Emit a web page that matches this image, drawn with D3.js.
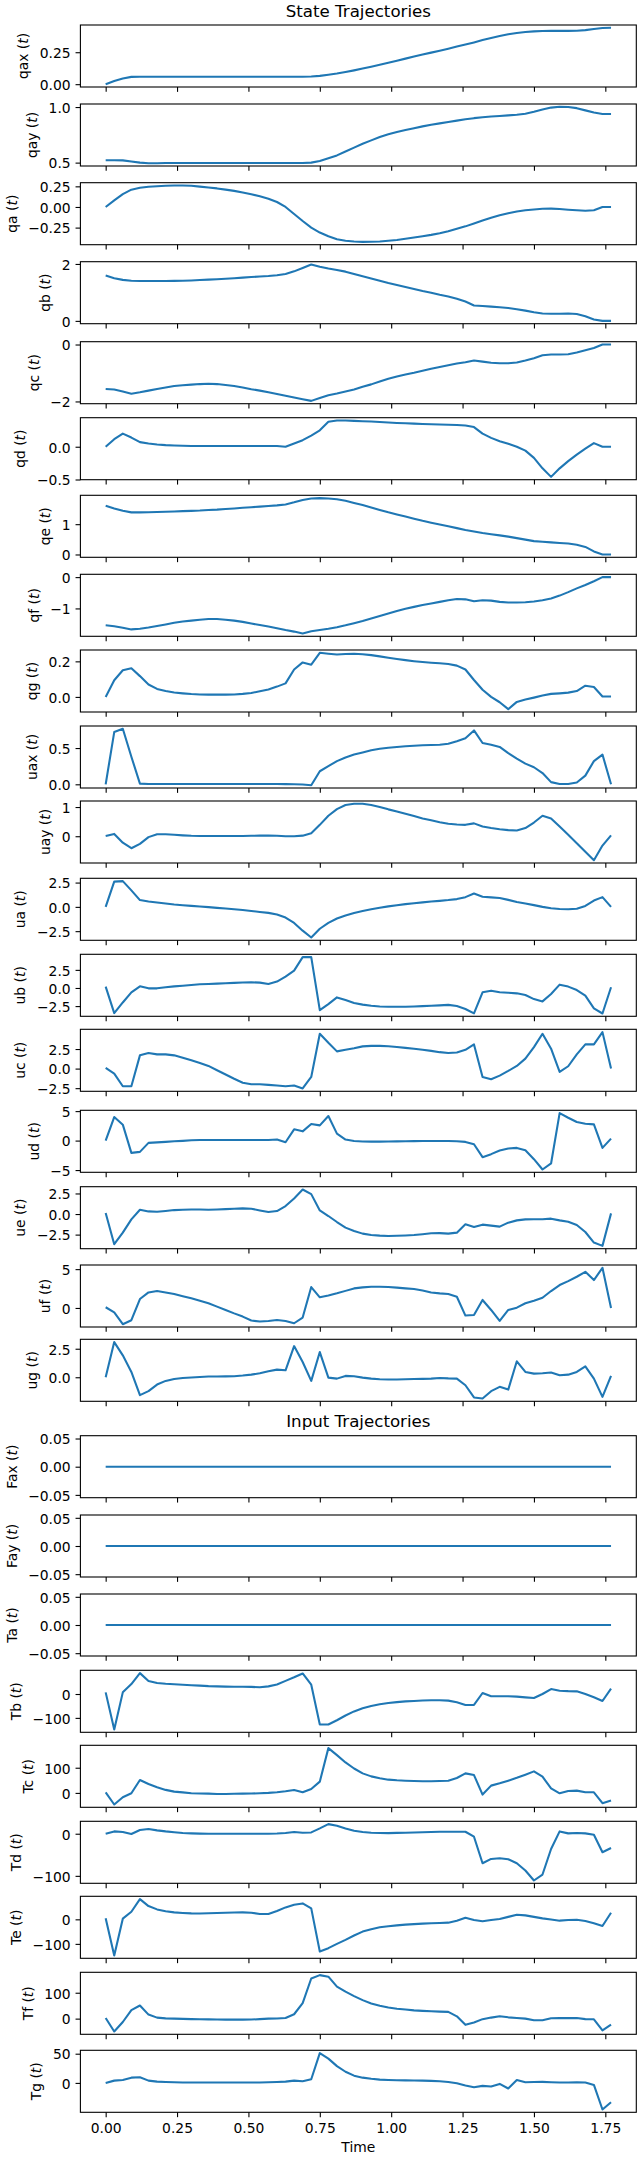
<!DOCTYPE html>
<html>
<head>
<meta charset="utf-8">
<style>
  body { margin: 0; background: #fff; }
  svg text { font-family: "DejaVu Sans", sans-serif; fill: #000; }
  .tick text { font-size: 13.89px; }
  .tick line { stroke: #000; stroke-width: 1.1; }
  .ylab, .xlab { font-size: 13.89px; }
  .title { font-size: 16.67px; }
</style>
</head>
<body>
<svg id="chart"></svg>
<script src="https://d3js.org/d3.v7.min.js"></script>
<script>
// sample times
const time = [0,0.03,0.06,0.09,0.12,0.15,0.18,0.21,0.24,0.27,0.3,0.33,0.36,0.39,0.42,0.45,0.48,0.51,0.54,0.57,
  0.6,0.63,0.66,0.69,0.72,0.75,0.78,0.81,0.84,0.87,0.9,0.93,0.96,0.99,1.02,1.05,1.08,1.11,1.14,1.17,
  1.2,1.23,1.26,1.29,1.32,1.35,1.38,1.41,1.44,1.47,1.5,1.53,1.56,1.59,1.62,1.65,1.68,1.71,1.74,1.77];
const xTicks = [0, 0.25, 0.5, 0.75, 1, 1.25, 1.5, 1.75];

// states
const qax = [0,0.025,0.045,0.057,0.058,0.058,0.058,0.058,0.058,0.058,0.058,0.058,0.058,0.058,0.058,0.058,0.058,0.058,0.058,0.058,
  0.058,0.058,0.058,0.058,0.06,0.065,0.074,0.083,0.095,0.108,0.122,0.137,0.152,0.168,0.184,0.2,0.216,0.232,0.247,0.262,
  0.278,0.294,0.31,0.327,0.345,0.362,0.377,0.39,0.4,0.408,0.413,0.416,0.417,0.417,0.417,0.418,0.423,0.432,0.44,0.441];
const qay = [0.522,0.522,0.52,0.51,0.5,0.495,0.495,0.497,0.497,0.497,0.497,0.497,0.497,0.497,0.497,0.497,0.497,0.497,0.497,0.497,
  0.497,0.497,0.497,0.497,0.5,0.515,0.54,0.565,0.6,0.635,0.67,0.7,0.73,0.755,0.775,0.793,0.81,0.826,0.84,0.853,
  0.865,0.878,0.89,0.9,0.908,0.915,0.92,0.925,0.93,0.94,0.958,0.978,0.995,1.002,1.0,0.99,0.97,0.95,0.937,0.937];
const qa = [0,0.08,0.155,0.21,0.232,0.245,0.252,0.258,0.26,0.26,0.258,0.247,0.237,0.225,0.21,0.195,0.175,0.155,0.13,0.1,
  0.06,0.0,-0.085,-0.17,-0.25,-0.31,-0.355,-0.39,-0.41,-0.418,-0.423,-0.422,-0.418,-0.41,-0.4,-0.386,-0.37,-0.355,-0.338,-0.318,
  -0.295,-0.265,-0.235,-0.2,-0.165,-0.13,-0.1,-0.075,-0.055,-0.04,-0.03,-0.022,-0.02,-0.025,-0.033,-0.04,-0.045,-0.04,0,0];
const qb = [1.59,1.5,1.44,1.41,1.4,1.4,1.4,1.4,1.405,1.41,1.42,1.435,1.45,1.465,1.48,1.5,1.52,1.54,1.56,1.575,
  1.6,1.65,1.74,1.86,1.98,1.9,1.84,1.79,1.73,1.65,1.57,1.49,1.41,1.33,1.26,1.19,1.12,1.05,0.99,0.92,
  0.86,0.78,0.68,0.54,0.52,0.5,0.48,0.45,0.41,0.36,0.3,0.26,0.25,0.25,0.26,0.24,0.16,0.05,0,0];
const qc = [-1.56,-1.58,-1.65,-1.73,-1.68,-1.62,-1.56,-1.51,-1.46,-1.43,-1.41,-1.39,-1.38,-1.39,-1.42,-1.46,-1.51,-1.57,-1.62,-1.68,
  -1.74,-1.8,-1.86,-1.92,-1.98,-1.88,-1.78,-1.72,-1.65,-1.58,-1.48,-1.4,-1.3,-1.2,-1.12,-1.05,-0.99,-0.92,-0.85,-0.79,
  -0.73,-0.67,-0.62,-0.56,-0.6,-0.64,-0.66,-0.66,-0.63,-0.56,-0.48,-0.38,-0.35,-0.35,-0.34,-0.28,-0.2,-0.12,0,0];
const qd = [0,0.115,0.2,0.14,0.07,0.05,0.035,0.025,0.02,0.015,0.012,0.01,0.01,0.01,0.01,0.01,0.01,0.01,0.01,0.01,
  0.012,0.0,0.05,0.1,0.17,0.25,0.38,0.4,0.4,0.395,0.39,0.385,0.378,0.37,0.363,0.357,0.352,0.348,0.344,0.34,
  0.336,0.332,0.325,0.3,0.2,0.135,0.085,0.045,0.0,-0.06,-0.17,-0.33,-0.46,-0.33,-0.22,-0.12,-0.03,0.055,0,0];
const qe = [1.61,1.52,1.44,1.39,1.39,1.395,1.4,1.41,1.42,1.43,1.44,1.45,1.47,1.48,1.5,1.52,1.54,1.56,1.58,1.6,
  1.62,1.65,1.72,1.8,1.85,1.86,1.85,1.82,1.77,1.7,1.63,1.55,1.47,1.39,1.32,1.25,1.18,1.11,1.05,0.99,
  0.93,0.87,0.81,0.76,0.71,0.67,0.63,0.59,0.54,0.49,0.44,0.42,0.4,0.38,0.36,0.32,0.25,0.1,0,0];
const qf = [-1.54,-1.57,-1.62,-1.67,-1.65,-1.61,-1.56,-1.51,-1.46,-1.42,-1.39,-1.36,-1.34,-1.34,-1.36,-1.39,-1.43,-1.48,-1.53,-1.58,
  -1.63,-1.69,-1.74,-1.8,-1.73,-1.69,-1.65,-1.6,-1.54,-1.47,-1.4,-1.32,-1.24,-1.16,-1.08,-1.01,-0.95,-0.89,-0.84,-0.79,
  -0.74,-0.7,-0.71,-0.77,-0.74,-0.75,-0.79,-0.81,-0.81,-0.8,-0.78,-0.74,-0.68,-0.59,-0.48,-0.36,-0.25,-0.13,0,0];
const qg = [0,0.094,0.15,0.161,0.117,0.07,0.045,0.033,0.025,0.02,0.016,0.014,0.013,0.013,0.013,0.014,0.017,0.022,0.032,0.042,
  0.058,0.076,0.154,0.194,0.181,0.248,0.243,0.239,0.241,0.243,0.24,0.235,0.228,0.22,0.213,0.207,0.201,0.196,0.192,0.189,
  0.185,0.176,0.154,0.095,0.04,0.0,-0.03,-0.069,-0.028,-0.015,-0.004,0.008,0.017,0.02,0.024,0.033,0.063,0.056,0.002,0.002];
const uax = [0,0.72,0.765,0.38,0.01,0.005,0.005,0.005,0.005,0.005,0.005,0.005,0.005,0.005,0.005,0.005,0.005,0.005,0.005,0.005,
  0.005,0.003,0.0,-0.003,-0.012,0.18,0.25,0.32,0.37,0.41,0.44,0.47,0.49,0.505,0.515,0.525,0.532,0.538,0.542,0.546,
  0.56,0.595,0.635,0.743,0.57,0.545,0.515,0.43,0.355,0.285,0.235,0.155,0.03,0.005,0.005,0.025,0.12,0.32,0.41,0];
const uay = [0.01,0.08,-0.22,-0.41,-0.26,-0.03,0.07,0.07,0.05,0.03,0.015,0.01,0.01,0.01,0.01,0.01,0.01,0.015,0.02,0.02,
  0.015,0.0,0.0,0.02,0.1,0.39,0.7,0.93,1.07,1.11,1.11,1.07,1.0,0.92,0.85,0.77,0.69,0.61,0.55,0.48,
  0.425,0.4,0.39,0.44,0.33,0.28,0.24,0.21,0.195,0.28,0.47,0.7,0.61,0.33,0.05,-0.24,-0.53,-0.82,-0.32,0.03];
const ua = [0,2.6,2.65,1.7,0.7,0.55,0.45,0.35,0.25,0.17,0.1,0.03,-0.03,-0.1,-0.17,-0.25,-0.33,-0.42,-0.52,-0.62,
  -0.78,-1.1,-1.65,-2.45,-3.15,-2.25,-1.65,-1.2,-0.88,-0.62,-0.42,-0.25,-0.1,0.05,0.17,0.28,0.38,0.46,0.55,0.62,
  0.7,0.8,1.0,1.38,1.05,0.98,0.92,0.72,0.5,0.35,0.18,0.0,-0.15,-0.22,-0.24,-0.2,0.1,0.65,1.0,0];
const ub = [0.19,-3.47,-2.0,-0.6,0.23,-0.05,-0.05,0.1,0.22,0.32,0.42,0.51,0.56,0.6,0.65,0.7,0.75,0.79,0.74,0.56,
  0.88,1.57,2.4,4.26,4.26,-3.06,-2.22,-1.3,-1.67,-2.08,-2.3,-2.45,-2.55,-2.6,-2.6,-2.58,-2.55,-2.5,-2.45,-2.4,
  -2.33,-2.5,-2.9,-3.5,-0.6,-0.37,-0.6,-0.65,-0.74,-0.97,-1.53,-1.85,-0.83,0.46,0.19,-0.28,-1.06,-2.82,-3.52,0.1];
const uc = [0.08,-0.64,-2.25,-2.25,1.69,1.99,1.82,1.82,1.69,1.4,1.06,0.72,0.34,-0.21,-0.76,-1.3,-1.8,-2.0,-2.0,-2.08,
  -2.16,-2.25,-2.16,-2.54,-1.07,4.45,3.3,2.2,2.4,2.6,2.84,2.9,2.9,2.85,2.75,2.65,2.54,2.4,2.26,2.1,
  2.0,2.05,2.4,3.09,-1.07,-1.36,-0.9,-0.3,0.34,1.27,2.75,4.45,2.54,-0.43,0.3,1.82,3.09,3.09,4.66,0];
const ud = [0,3.99,2.7,-2.08,-1.91,-0.39,-0.3,-0.22,-0.12,-0.05,0.05,0.1,0.11,0.11,0.11,0.11,0.11,0.11,0.11,0.11,
  0.2,-0.28,1.91,1.57,2.81,2.58,4.16,1.18,0.17,-0.06,-0.15,-0.17,-0.17,-0.15,-0.13,-0.11,-0.09,-0.07,-0.06,-0.06,
  -0.07,-0.12,-0.22,-0.62,-2.81,-2.3,-1.69,-1.35,-1.24,-1.63,-3.15,-4.9,-3.88,4.66,3.88,3.15,2.87,2.75,-1.24,0.34];
const ue = [0.12,-3.67,-2.26,-0.65,0.52,0.32,0.28,0.38,0.48,0.52,0.56,0.55,0.52,0.55,0.6,0.64,0.69,0.65,0.44,0.24,
  0.36,0.97,1.9,2.98,2.42,0.44,-0.24,-0.97,-1.65,-2.06,-2.38,-2.54,-2.62,-2.66,-2.64,-2.6,-2.54,-2.45,-2.34,-2.32,
  -2.38,-2.26,-1.25,-1.57,-1.29,-1.41,-1.53,-1.05,-0.77,-0.65,-0.63,-0.63,-0.56,-0.77,-0.93,-1.33,-2.18,-3.47,-3.87,0.08];
const uf = [0.09,-0.56,-2.09,-1.58,1.15,2.0,2.18,2.0,1.79,1.52,1.24,0.92,0.6,0.17,-0.26,-0.7,-1.11,-1.62,-1.75,-1.67,
  -1.54,-1.67,-1.97,-1.24,2.69,1.37,1.6,1.88,2.2,2.52,2.65,2.74,2.74,2.7,2.62,2.52,2.44,2.25,2.0,1.88,
  1.79,1.45,-0.98,-0.9,1.03,-0.26,-1.67,-0.26,0.04,0.6,0.94,1.32,2.18,2.95,3.46,4.02,4.66,3.59,5.17,0];
const ug = [0,3.08,1.92,0.47,-1.57,-1.22,-0.64,-0.32,-0.15,-0.06,-0.02,0.02,0.06,0.07,0.08,0.09,0.15,0.23,0.35,0.52,
  0.67,0.61,2.73,1.34,-0.32,2.21,-0.03,-0.12,0.12,0.09,-0.03,-0.12,-0.17,-0.2,-0.2,-0.18,-0.16,-0.14,-0.12,-0.06,
  -0.1,-0.12,-0.7,-1.77,-1.86,-1.22,-0.84,-1.08,1.4,0.47,0.32,0.35,0.41,0.17,0.23,0.47,0.96,-0.12,-1.72,0.12];

// inputs
const Fax = [0,0,0,0,0,0,0,0,0,0,0,0,0,0,0,0,0,0,0,0,0,0,0,0,0,0,0,0,0,0,
  0,0,0,0,0,0,0,0,0,0,0,0,0,0,0,0,0,0,0,0,0,0,0,0,0,0,0,0,0,0];
const Fay = [0,0,0,0,0,0,0,0,0,0,0,0,0,0,0,0,0,0,0,0,0,0,0,0,0,0,0,0,0,0,
  0,0,0,0,0,0,0,0,0,0,0,0,0,0,0,0,0,0,0,0,0,0,0,0,0,0,0,0,0,0];
const Ta = [0,0,0,0,0,0,0,0,0,0,0,0,0,0,0,0,0,0,0,0,0,0,0,0,0,0,0,0,0,0,
  0,0,0,0,0,0,0,0,0,0,0,0,0,0,0,0,0,0,0,0,0,0,0,0,0,0,0,0,0,0];
const Tb = [6.9,-148.6,6.9,41.7,87.5,54.2,45.8,43,41,39,37,35,33,32,31,30.6,30.6,30,28,32,
  40,55,70,86.1,38.9,-127.8,-127.8,-110,-90,-73,-60,-50,-43,-38,-34,-31,-29,-27.5,-26.4,-26,
  -27.8,-34.7,-45.8,-45.8,4.2,-9.7,-9.7,-9.7,-11,-14,-16.7,0,20.8,13.9,12,11.1,0,-13.9,-29.2,22.2];
const Tc = [2.4,-46,-17,-1.6,51.4,35.6,22.1,12,5.1,2,-1.6,-2.5,-3,-4.1,-4.1,-3.5,-3,-2.5,-1.6,0,
  2.4,6.3,11.6,2.4,15.8,44.7,177.9,150,121,97,77.5,65.6,58,52.6,50,48.6,47,46,46,47,
  48.6,59.3,77.5,70.9,-6.7,28.9,38,48.6,60,72.3,85.4,64.3,18.2,-1.6,7.6,9,2.4,2.4,-41,-30.4];
const Td = [0,5.5,3.9,-0.8,8.7,11,8,5.5,3.5,1.6,0.8,0.3,0,0,0,0,0,0,0,0,
  0.5,1.6,3.9,2.4,3.1,12.6,22.8,18.9,12.6,7.1,3.9,2.5,1.6,1.5,2,2.5,3.1,3.5,4,4.5,
  4.7,4.7,4.7,-7.1,-70,-59.8,-58.3,-60.6,-70,-87.4,-111,-96.9,-36.2,5.5,0.8,1.6,0.8,-2.4,-44,-33.9];
const Te = [4,-147.3,2.7,31,82.4,54,40.5,33,28.4,26,24.3,24,24.5,25.5,27,28,28.4,27,22,21.6,
  33.8,48.6,59.5,64.9,44.6,-131,-117.6,-100,-83.8,-66,-50,-40,-32.4,-28,-24.5,-21.6,-19.5,-17.5,-16.2,-15,
  -13.5,-5.4,6.8,-2.7,-8.1,-3,1.4,10,18.9,16.2,10,4,-1,-5.4,-3,-1.4,-6.8,-16.2,-27,27];
const Tf = [2.6,-49.6,-13,32.6,50.8,15.6,3.9,1,0,-1,-2,-2.5,-3,-3.5,-3.9,-3.9,-3.9,-3.5,-2,0,
  0.5,2.6,16.9,60,155,168,162,123.4,104,87,71.5,58.6,50,43,38,35,32,30,28.5,27,
  26,9,-24,-15,-2,4,9,5,2.6,0,-6,-6.5,1.3,2.6,2,2.6,-2,-2.6,-45.6,-23.4];
const Tg = [0,3.9,5.1,9,9.6,3.9,2.2,1.5,1.1,0.8,0.6,0.6,0.6,0.6,0.6,0.6,0.6,0.6,0.8,1.1,
  1.5,2.2,3.9,2.8,6.2,51,41.6,28.7,19.1,12.4,9,7,5.6,5,4.5,4.3,4,3.9,3.5,2.8,
  1.7,-0.6,-4.5,-7.3,-5.1,-6.2,-1.7,-9.6,5.1,1.1,1.5,1.7,1.2,0.6,0.8,1.1,0.8,-3.4,-45.5,-33.1];

const stateNames = ["qax","qay","qa","qb","qc","qd","qe","qf","qg","uax","uay","ua","ub","uc","ud","ue","uf","ug"];
const stateSeries = [qax,qay,qa,qb,qc,qd,qe,qf,qg,uax,uay,ua,ub,uc,ud,ue,uf,ug];
const stateTicks = [[0,0.25],[0.5,1],[-0.25,0,0.25],[0,2],[-2,0],[-0.5,0],[0,1],[-1,0],[0,0.2],
  [0,0.5],[0,1],[-2.5,0,2.5],[-2.5,0,2.5],[-2.5,0,2.5],[-5,0,5],[-2.5,0,2.5],[0,5],[0,2.5]];
const inputNames = ["Fax","Fay","Ta","Tb","Tc","Td","Te","Tf","Tg"];
const inputSeries = [Fax,Fay,Ta,Tb,Tc,Td,Te,Tf,Tg];
const inputTicks = [[-0.05,0,0.05],[-0.05,0,0.05],[-0.05,0,0.05],[-100,0],[0,100],[-100,0],[-100,0],[0,100],[0,50]];

// layout (px)
const width = 640, height = 2160;
const left = 80.4, right = 636.3, panelH = 62;
const tickLen = 4.86, tickPad = 4.86, labelPad = 5.56;
const stateTops = [25,104,182.7,261.7,341.7,417.7,495.3,574.3,650,726,801,878.3,954.3,1029.3,1110.3,1186.7,1265,1339.3];
const inputTops = [1435.7,1515,1594,1670.3,1745.3,1821.3,1896.3,1972.3,2050.3];

const svg = d3.select("#chart").attr("width", width).attr("height", height);

const tExt = d3.extent(time);
const tPad = (tExt[1] - tExt[0]) * 0.05;
const x = d3.scaleLinear().domain([tExt[0] - tPad, tExt[1] + tPad]).range([left, right]);

function decimals(ticks) {
  const step = Math.abs(ticks[1] - ticks[0]);
  let d = 0;
  while (Math.abs(step * 10 ** d - Math.round(step * 10 ** d)) > 1e-9 && d < 6) d++;
  return d;
}

function drawPanel(top, name, values, ticks, isLast) {
  const g = svg.append("g").attr("transform", "translate(0," + top + ")");

  let [lo, hi] = d3.extent(values);
  if (lo === hi) { lo -= 0.05; hi += 0.05; }
  const m = (hi - lo) * 0.05;
  const y = d3.scaleLinear().domain([lo - m, hi + m]).range([panelH, 0]);

  const line = d3.line().x((d, i) => x(time[i])).y(d => y(d));
  g.append("path")
    .datum(values)
    .attr("d", line)
    .attr("fill", "none")
    .attr("stroke", "#1f77b4")
    .attr("stroke-width", 2.08)
    .attr("stroke-linejoin", "round");

  // x axis (labels only on bottom panel)
  const xAxis = g.append("g")
    .attr("transform", "translate(0," + panelH + ")")
    .call(d3.axisBottom(x).tickValues(xTicks).tickSize(tickLen).tickPadding(tickPad)
      .tickFormat(isLast ? d3.format(".2f") : () => ""));
  xAxis.select(".domain").remove();
  xAxis.selectAll(".tick text").attr("dy", "0.76em");

  // y axis
  const yAxis = g.append("g")
    .attr("transform", "translate(" + left + ",0)")
    .call(d3.axisLeft(y).tickValues(ticks).tickSize(tickLen).tickPadding(tickPad)
      .tickFormat(d3.format("." + decimals(ticks) + "f")));
  yAxis.select(".domain").remove();
  yAxis.selectAll(".tick text").attr("dy", "0.38em");

  // spines
  g.append("rect")
    .attr("x", left).attr("y", 0)
    .attr("width", right - left).attr("height", panelH)
    .attr("fill", "none").attr("stroke", "#000").attr("stroke-width", 1.1);

  // y label sits left of the widest tick label
  const maxW = d3.max(yAxis.selectAll(".tick text").nodes(), n => n.getComputedTextLength());
  const lx = left - tickLen - tickPad - maxW - labelPad - 6;
  const lab = g.append("text")
    .attr("class", "ylab")
    .attr("text-anchor", "middle")
    .attr("transform", "translate(" + lx + "," + (panelH / 2) + ") rotate(-90)");
  lab.append("tspan").text(name + " (");
  lab.append("tspan").attr("font-style", "italic").text("t");
  lab.append("tspan").text(")");

  if (isLast) {
    g.append("text")
      .attr("class", "xlab")
      .attr("x", (left + right) / 2)
      .attr("y", panelH + 40.1)
      .attr("text-anchor", "middle")
      .text("Time");
  }
}

function drawGroup(title, names, series, ticks, tops, hasXLabels) {
  svg.append("text")
    .attr("class", "title")
    .attr("x", (left + right) / 2)
    .attr("y", tops[0] - 8.33)
    .attr("text-anchor", "middle")
    .text(title);
  names.forEach((n, i) => {
    drawPanel(tops[i], n, series[i], ticks[i], hasXLabels && i === names.length - 1);
  });
}

drawGroup("State Trajectories", stateNames, stateSeries, stateTicks, stateTops, false);
drawGroup("Input Trajectories", inputNames, inputSeries, inputTicks, inputTops, true);
</script>
</body>
</html>
